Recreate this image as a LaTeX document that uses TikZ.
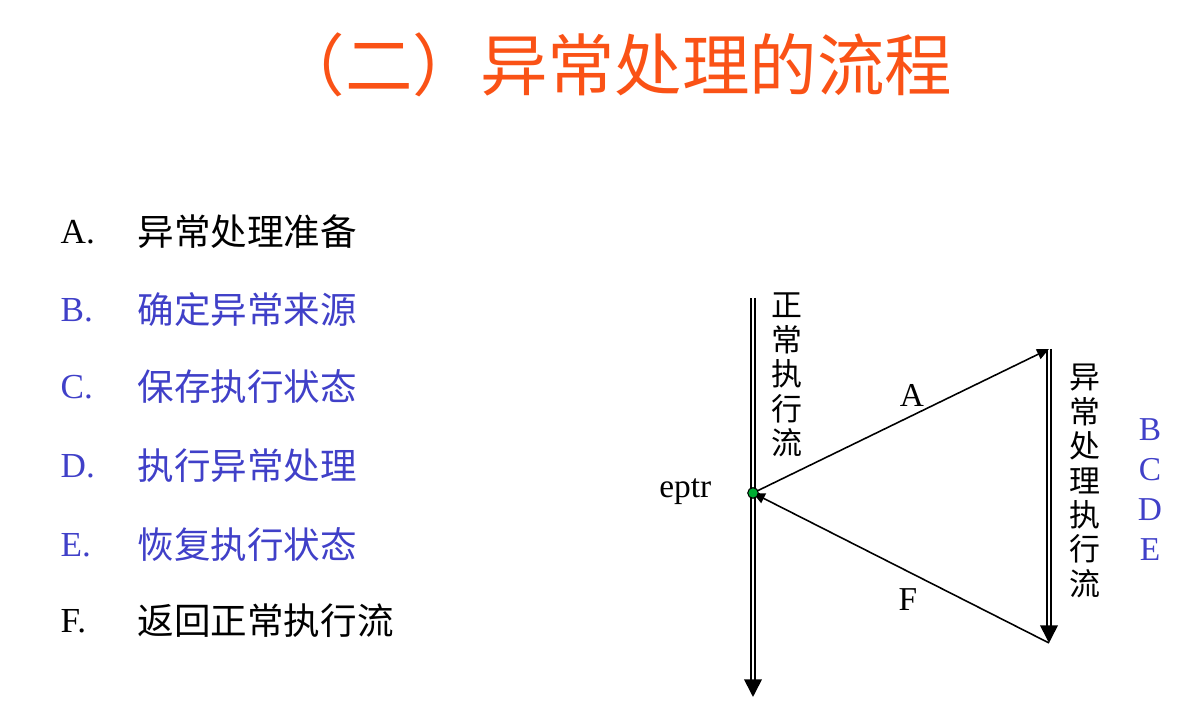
\documentclass[tikz,border=0pt]{standalone}
\usepackage{fontspec}
\setmainfont{Liberation Serif}
\newfontfamily\cjk{Noto Sans CJK SC}
\usetikzlibrary{arrows.meta}
\definecolor{titleorange}{RGB}{250,82,22}
\definecolor{itemblue}{RGB}{64,64,200}
\tikzset{
  flow/.style={double, line width=0.5pt, double distance=0.7pt,
    -{Triangle[length=5pt,width=5pt]}},
  jump/.style={line width=0.45pt, -{Triangle[length=3.4pt,width=3pt]}},
  vtext/.style={inner sep=0pt, align=center, font=\cjk\fontsize{8.8}{9.8}\selectfont},
  itemkey/.style={anchor=west, inner sep=0pt, font=\fontsize{10}{12}\selectfont},
  itemtext/.style={anchor=west, inner sep=0pt, font=\cjk\fontsize{10.4}{12}\selectfont},
  lbl/.style={inner sep=0pt, font=\fontsize{9.5}{11}\selectfont},
}
\begin{document}
\begin{tikzpicture}
   \useasboundingbox (0,0) rectangle (11.88,7.2);

   % title
   \node[titleorange, font=\cjk\fontsize{19.2}{21}\selectfont] (title) at (6.15,6.55)
   {（二）异常处理的流程};

   % list of steps
   \node[itemkey] (ka) at (0.60,4.88) {A.};
   \node[itemtext] (ta) at (1.37,4.88) {异常处理准备};
   \node[itemkey, itemblue] (kb) at (0.60,4.10) {B.};
   \node[itemtext, itemblue] (tb) at (1.37,4.10) {确定异常来源};
   \node[itemkey, itemblue] (kc) at (0.60,3.33) {C.};
   \node[itemtext, itemblue] (tc) at (1.37,3.33) {保存执行状态};
   \node[itemkey, itemblue] (kd) at (0.60,2.54) {D.};
   \node[itemtext, itemblue] (td) at (1.37,2.54) {执行异常处理};
   \node[itemkey, itemblue] (ke) at (0.60,1.75) {E.};
   \node[itemtext, itemblue] (te) at (1.37,1.75) {恢复执行状态};
   \node[itemkey] (kf) at (0.60,0.99) {F.};
   \node[itemtext] (tf) at (1.37,0.99) {返回正常执行流};

   % normal flow
   \coordinate (ntop) at (7.53,4.22);
   \coordinate (nend) at (7.53,0.23);
   \coordinate (eptr) at (7.53,2.27);
   \draw[flow] (ntop) -- (nend);
   \node[vtext] (nlabel) at (7.87,3.45) {正\\常\\执\\行\\流};

   % exception handler flow
   \coordinate (htop) at (10.49,3.71);
   \coordinate (hend) at (10.49,0.77);
   \draw[flow] (htop) -- (hend);
   \node[vtext] (hlabel) at (10.85,2.39) {异\\常\\处\\理\\执\\行\\流};

   % jump out and back
   \draw[jump] (eptr) -- (htop);
   \draw[jump] (hend) -- (eptr);
   \node[lbl] (la) at (9.12,3.24) {A};
   \node[lbl] (lf) at (9.08,1.20) {F};
   \node[lbl, anchor=east] (leptr) at (7.12,2.28) {eptr};
   \filldraw[fill=green!60!black!80!cyan, line width=0.3pt] (eptr) circle (1.5pt);

   % handler steps
   \node[lbl, itemblue] (sb) at (11.50,2.90) {B};
   \node[lbl, itemblue] (sc) at (11.50,2.50) {C};
   \node[lbl, itemblue] (sd) at (11.50,2.10) {D};
   \node[lbl, itemblue] (se) at (11.50,1.70) {E};
\end{tikzpicture}
\end{document}
